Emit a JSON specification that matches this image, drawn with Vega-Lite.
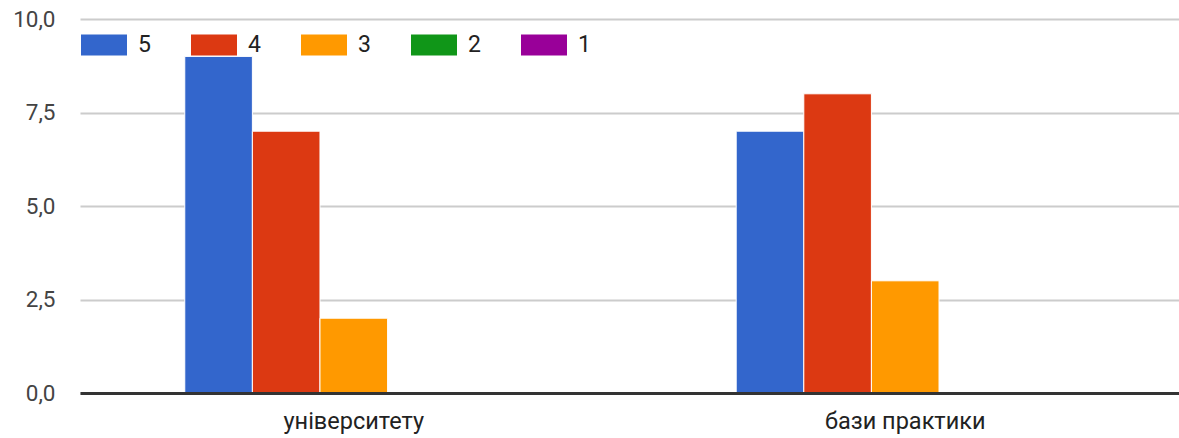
{
  "$schema": "https://vega.github.io/schema/vega-lite/v6.json",
  "autosize": {"type": "none"},
  "padding": {"left": 80, "top": 19, "right": 0, "bottom": 45},
  "width": 1099,
  "height": 374,
  "background": "white",
  "data": {
    "values": [
      {"category": "університету", "rating": "5", "count": 9},
      {"category": "університету", "rating": "4", "count": 7},
      {"category": "університету", "rating": "3", "count": 2},
      {"category": "університету", "rating": "2", "count": 0},
      {"category": "університету", "rating": "1", "count": 0},
      {"category": "бази практики", "rating": "5", "count": 7},
      {"category": "бази практики", "rating": "4", "count": 8},
      {"category": "бази практики", "rating": "3", "count": 3},
      {"category": "бази практики", "rating": "2", "count": 0},
      {"category": "бази практики", "rating": "1", "count": 0}
    ]
  },
  "config": {
    "view": {"stroke": null},
    "font": "Roboto"
  },
  "mark": {"type": "bar", "stroke": "white", "strokeWidth": 1},
  "encoding": {
    "x": {
      "field": "category",
      "type": "nominal",
      "sort": ["університету", "бази практики"],
      "scale": {"paddingInner": 0.387, "paddingOuter": 0.19},
      "axis": {
        "title": null,
        "labelAngle": 0,
        "ticks": false,
        "domain": true,
        "domainColor": "#333333",
        "domainWidth": 3,
        "labelFont": "Roboto",
        "labelFontSize": 23.5,
        "labelColor": "#222222",
        "labelPadding": 16,
        "zindex": 1
      }
    },
    "xOffset": {
      "field": "rating",
      "type": "nominal",
      "sort": ["5", "4", "3", "2", "1"],
      "scale": {"paddingInner": 0, "paddingOuter": 0}
    },
    "y": {
      "field": "count",
      "type": "quantitative",
      "scale": {"domain": [0, 10], "nice": false},
      "axis": {
        "title": null,
        "values": [0, 2.5, 5, 7.5, 10],
        "labelExpr": "replace(format(datum.value, '.1f'), '.', ',')",
        "ticks": false,
        "domain": false,
        "grid": true,
        "gridColor": "#cccccc",
        "gridWidth": 2,
        "labelFont": "Roboto",
        "labelFontSize": 22.5,
        "labelColor": "#444444",
        "labelPadding": 25
      }
    },
    "color": {
      "field": "rating",
      "type": "nominal",
      "sort": ["5", "4", "3", "2", "1"],
      "scale": {
        "domain": ["5", "4", "3", "2", "1"],
        "range": ["#3366CC", "#DC3912", "#FF9900", "#109618", "#990099"]
      },
      "legend": {
        "title": null,
        "orient": "none",
        "direction": "horizontal",
        "legendX": 1,
        "legendY": 3,
        "symbolType": "M-1,-0.46H1V0.46H-1Z",
        "symbolSize": 2116,
        "symbolStrokeWidth": 0,
        "symbolOpacity": 1,
        "labelFont": "Roboto",
        "labelFontSize": 23,
        "labelColor": "#222222",
        "labelOffset": 11,
        "columnPadding": 40
      }
    }
  }
}
